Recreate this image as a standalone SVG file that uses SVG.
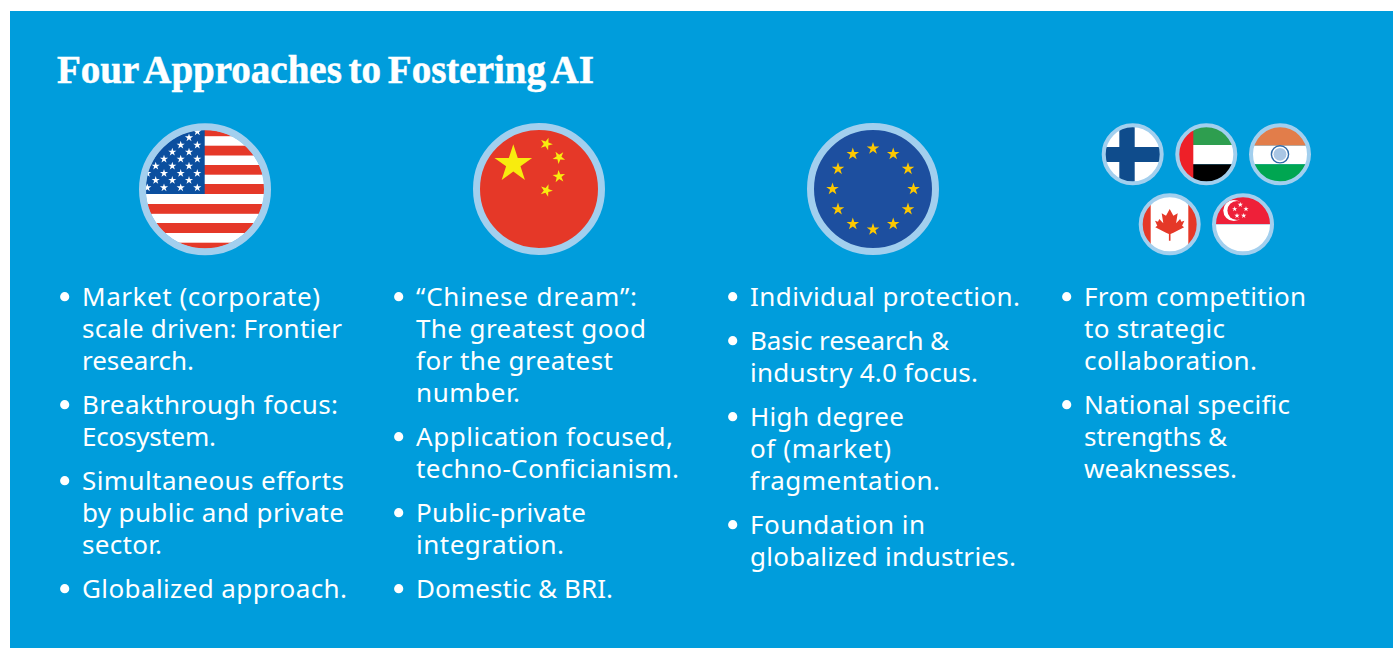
<svg xmlns="http://www.w3.org/2000/svg" xmlns:xlink="http://www.w3.org/1999/xlink" width="1393" height="648" viewBox="0 0 1393 648">
<style>
.bg{fill:#009ddc}
.title{font-family:"Liberation Serif",serif;font-weight:700;font-size:39px;fill:#fff;stroke:#fff;stroke-width:.5px;word-spacing:-3px}
.t{font-family:"Noto Sans",sans-serif;font-size:26px;fill:#fff}
.ring{fill:none;stroke:#a2cfee}
.big{stroke-width:7}
.small{stroke-width:4}
.b{fill:#fff}
</style>
<defs>
<polygon id="star" points="0,-1 .225,-.309 .951,-.309 .363,.118 .588,.809 0,.382 -.588,.809 -.363,.118 -.951,-.309 -.225,-.309"/>
<clipPath id="cUS"><circle cx="205" cy="189.3" r="59.5"/></clipPath>
<clipPath id="cFI"><circle cx="1132.7" cy="154.3" r="28"/></clipPath>
<clipPath id="cAE"><circle cx="1206.3" cy="154.3" r="28"/></clipPath>
<clipPath id="cIN"><circle cx="1280" cy="154.3" r="28"/></clipPath>
<clipPath id="cCA"><circle cx="1169.7" cy="224.3" r="28"/></clipPath>
<clipPath id="cSG"><circle cx="1243" cy="224.3" r="28"/></clipPath>
</defs>
<rect class="bg" x="10" y="11" width="1383" height="637"/>
<text id="title" class="title" x="57" y="83">Four Approaches to Fostering AI</text>

<g id="flag-us">
<g clip-path="url(#cUS)">
<rect x="140" y="125" width="130" height="130" fill="#fff"/>
<g fill="#e53828">
<rect x="140" y="126.6" width="130" height="9.6"/><rect x="140" y="145.7" width="130" height="9.8"/><rect x="140" y="165" width="130" height="9.7"/><rect x="140" y="184" width="130" height="10"/><rect x="140" y="204" width="130" height="9.8"/><rect x="140" y="223" width="130" height="10"/><rect x="140" y="242.7" width="130" height="9.6"/>
</g>
<rect x="140" y="125" width="64.7" height="69" fill="#0b4f9f"/>
<g fill="#fff">
<use xlink:href="#star" transform="translate(197.3 131.7) scale(4.3)"/>
<use xlink:href="#star" transform="translate(189 137.7) scale(4.3)"/>
<use xlink:href="#star" transform="translate(180.7 145) scale(4.3)"/><use xlink:href="#star" transform="translate(197.3 145) scale(4.3)"/>
<use xlink:href="#star" transform="translate(172.3 152) scale(4.3)"/><use xlink:href="#star" transform="translate(189 152) scale(4.3)"/>
<use xlink:href="#star" transform="translate(164 159) scale(4.3)"/><use xlink:href="#star" transform="translate(180.7 159) scale(4.3)"/><use xlink:href="#star" transform="translate(197.3 159) scale(4.3)"/>
<use xlink:href="#star" transform="translate(155.7 166) scale(4.3)"/><use xlink:href="#star" transform="translate(172.3 166) scale(4.3)"/><use xlink:href="#star" transform="translate(189 166) scale(4.3)"/>
<use xlink:href="#star" transform="translate(147.3 173.3) scale(4.3)"/><use xlink:href="#star" transform="translate(164 173.3) scale(4.3)"/><use xlink:href="#star" transform="translate(180.7 173.3) scale(4.3)"/><use xlink:href="#star" transform="translate(197.3 173.3) scale(4.3)"/>
<use xlink:href="#star" transform="translate(155.7 180.3) scale(4.3)"/><use xlink:href="#star" transform="translate(172.3 180.3) scale(4.3)"/><use xlink:href="#star" transform="translate(189 180.3) scale(4.3)"/>
<use xlink:href="#star" transform="translate(147.3 187.7) scale(4.3)"/><use xlink:href="#star" transform="translate(164 187.7) scale(4.3)"/><use xlink:href="#star" transform="translate(180.7 187.7) scale(4.3)"/><use xlink:href="#star" transform="translate(197.3 187.7) scale(4.3)"/>
</g>
</g>
<circle class="ring big" cx="205" cy="189.3" r="62.5"/>
</g>

<g id="flag-china">
<circle cx="539" cy="189" r="60" fill="#e53828"/>
<g fill="#f8ec0e">
<use xlink:href="#star" transform="translate(513.3 164) scale(19.8)"/>
<use xlink:href="#star" transform="translate(546.3 144) rotate(20) scale(6.6)"/>
<use xlink:href="#star" transform="translate(559 157.3) rotate(40) scale(6.6)"/>
<use xlink:href="#star" transform="translate(559 176.5) rotate(-5) scale(6.6)"/>
<use xlink:href="#star" transform="translate(546.3 190.5) rotate(20) scale(6.6)"/>
</g>
<circle class="ring big" cx="539" cy="189" r="62.5"/>
</g>

<g id="flag-eu">
<circle cx="873" cy="189" r="60" fill="#1d4f9f"/>
<g fill="#fdc800">
<use xlink:href="#star" transform="translate(873 148.5) scale(6.6)"/>
<use xlink:href="#star" transform="translate(893.2 154) scale(6.6)"/>
<use xlink:href="#star" transform="translate(908 168.8) scale(6.6)"/>
<use xlink:href="#star" transform="translate(913.5 189) scale(6.6)"/>
<use xlink:href="#star" transform="translate(908 209.2) scale(6.6)"/>
<use xlink:href="#star" transform="translate(893.2 224) scale(6.6)"/>
<use xlink:href="#star" transform="translate(873 229.5) scale(6.6)"/>
<use xlink:href="#star" transform="translate(852.8 224) scale(6.6)"/>
<use xlink:href="#star" transform="translate(838 209.2) scale(6.6)"/>
<use xlink:href="#star" transform="translate(832.5 189) scale(6.6)"/>
<use xlink:href="#star" transform="translate(838 168.8) scale(6.6)"/>
<use xlink:href="#star" transform="translate(852.8 154) scale(6.6)"/>
</g>
<circle class="ring big" cx="873" cy="189" r="62.5"/>
</g>

<g id="flag-finland">
<g clip-path="url(#cFI)">
<rect x="1100" y="120" width="70" height="70" fill="#fff"/>
<rect x="1119.3" y="120" width="15.4" height="70" fill="#0f4c8c"/>
<rect x="1100" y="147" width="70" height="15" fill="#0f4c8c"/>
</g>
<circle class="ring small" cx="1132.7" cy="154.3" r="29"/>
</g>

<g id="flag-uae">
<g clip-path="url(#cAE)">
<rect x="1170" y="120" width="70" height="25" fill="#2e9e4f"/>
<rect x="1170" y="145" width="70" height="19.3" fill="#fff"/>
<rect x="1170" y="164.3" width="70" height="26" fill="#000"/>
<rect x="1170" y="120" width="23.3" height="70" fill="#ee2028"/>
</g>
<circle class="ring small" cx="1206.3" cy="154.3" r="29"/>
</g>

<g id="flag-india">
<g clip-path="url(#cIN)">
<rect x="1245" y="120" width="70" height="25.7" fill="#e27d4a"/>
<rect x="1245" y="145.7" width="70" height="18.6" fill="#fff"/>
<rect x="1245" y="164.3" width="70" height="26" fill="#00a651"/>
</g>
<circle cx="1280" cy="154.3" r="8.6" fill="#fff" stroke="#2f6aa8" stroke-width="1.4"/>
<circle cx="1280" cy="154.3" r="6.4" fill="#a9c6e4"/>
<circle class="ring small" cx="1280" cy="154.3" r="29"/>
</g>

<g id="flag-canada">
<g clip-path="url(#cCA)">
<rect x="1135" y="190" width="70" height="70" fill="#e53828"/>
<rect x="1150.7" y="190" width="37.6" height="70" fill="#fff"/>
</g>
<polygon fill="#e53828" points="1169.7,209 1166,215.7 1161.7,213.3 1163.3,223.3 1159.3,219 1158,221.7 1155,220.7 1157.3,225.7 1155.3,227.3 1166,232.7 1168.9,234 1168.9,240.7 1170.5,240.7 1170.5,234 1173.4,232.7 1184.1,227.3 1182.1,225.7 1184.4,220.7 1181.4,221.7 1180.1,219 1176.1,223.3 1177.7,213.3 1173.4,215.7"/>
<circle class="ring small" cx="1169.7" cy="224.3" r="29"/>
</g>

<g id="flag-singapore">
<g clip-path="url(#cSG)">
<rect x="1210" y="190" width="70" height="34.3" fill="#ee2039"/>
<rect x="1210" y="224.3" width="70" height="36" fill="#fff"/>
</g>
<circle cx="1233.8" cy="210.5" r="10.5" fill="#fff"/>
<circle cx="1237" cy="210.5" r="9.6" fill="#ee2039"/>
<g fill="#fff">
<use xlink:href="#star" transform="translate(1240.3 204.7) scale(2.8)"/>
<use xlink:href="#star" transform="translate(1246 209) scale(2.8)"/>
<use xlink:href="#star" transform="translate(1243.7 215.7) scale(2.8)"/>
<use xlink:href="#star" transform="translate(1237 215.7) scale(2.8)"/>
<use xlink:href="#star" transform="translate(1234.7 209) scale(2.8)"/>
</g>
<circle class="ring small" cx="1243" cy="224.3" r="29"/>
</g>

<g id="col-1">
<circle class="b" cx="64.7" cy="296.7" r="4.6"/><circle class="b" cx="64.7" cy="404.7" r="4.6"/><circle class="b" cx="64.7" cy="480.7" r="4.6"/><circle class="b" cx="64.7" cy="588.7" r="4.6"/>
<text class="t" x="82" y="306" textLength="238">Market (corporate)</text>
<text class="t" x="82" y="338" textLength="260">scale driven: Frontier</text>
<text class="t" x="82" y="370" textLength="112">research.</text>
<text class="t" x="82" y="414" textLength="256">Breakthrough focus:</text>
<text class="t" x="82" y="446" textLength="134">Ecosystem.</text>
<text class="t" x="82" y="490" textLength="262">Simultaneous efforts</text>
<text class="t" x="82" y="522" textLength="262">by public and private</text>
<text class="t" x="82" y="554" textLength="80">sector.</text>
<text class="t" x="82" y="598" textLength="265">Globalized approach.</text>
</g>
<g id="col-2">
<circle class="b" cx="398.7" cy="296.7" r="4.6"/><circle class="b" cx="398.7" cy="436.7" r="4.6"/><circle class="b" cx="398.7" cy="512.7" r="4.6"/><circle class="b" cx="398.7" cy="588.7" r="4.6"/>
<text class="t" x="416" y="306" textLength="221">“Chinese dream”:</text>
<text class="t" x="416" y="338" textLength="230">The greatest good</text>
<text class="t" x="416" y="370" textLength="197">for the greatest</text>
<text class="t" x="416" y="402" textLength="104">number.</text>
<text class="t" x="416" y="446" textLength="257">Application focused,</text>
<text class="t" x="416" y="478" textLength="263">techno-Conficianism.</text>
<text class="t" x="416" y="522" textLength="170">Public-private</text>
<text class="t" x="416" y="554" textLength="148">integration.</text>
<text class="t" x="416" y="598" textLength="197">Domestic &amp; BRI.</text>
</g>
<g id="col-3">
<circle class="b" cx="732.7" cy="296.7" r="4.6"/><circle class="b" cx="732.7" cy="340.7" r="4.6"/><circle class="b" cx="732.7" cy="416.7" r="4.6"/><circle class="b" cx="732.7" cy="524.7" r="4.6"/>
<text class="t" x="750" y="306" textLength="270">Individual protection.</text>
<text class="t" x="750" y="350" textLength="199">Basic research &amp;</text>
<text class="t" x="750" y="382" textLength="228">industry 4.0 focus.</text>
<text class="t" x="750" y="426" textLength="154">High degree</text>
<text class="t" x="750" y="458" textLength="141">of (market)</text>
<text class="t" x="750" y="490" textLength="190">fragmentation.</text>
<text class="t" x="750" y="534" textLength="175">Foundation in</text>
<text class="t" x="750" y="566" textLength="266">globalized industries.</text>
</g>
<g id="col-4">
<circle class="b" cx="1066.7" cy="296.7" r="4.6"/><circle class="b" cx="1066.7" cy="404.7" r="4.6"/>
<text class="t" x="1084" y="306" textLength="222">From competition</text>
<text class="t" x="1084" y="338" textLength="141">to strategic</text>
<text class="t" x="1084" y="370" textLength="173">collaboration.</text>
<text class="t" x="1084" y="414" textLength="206">National specific</text>
<text class="t" x="1084" y="446" textLength="143">strengths &amp;</text>
<text class="t" x="1084" y="478" textLength="153">weaknesses.</text>
</g>
</svg>
